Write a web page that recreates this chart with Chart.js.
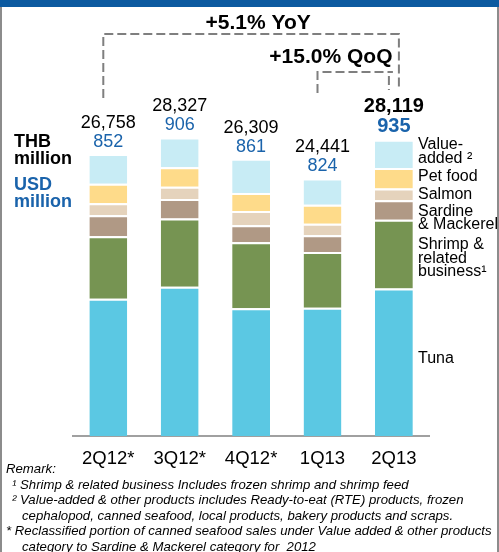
<!DOCTYPE html>
<html>
<head>
<meta charset="utf-8">
<script src="https://cdn.jsdelivr.net/npm/chart.js@4"></script>
<style>
  html, body { margin: 0; padding: 0; background: #fff; }
  body { width: 499px; height: 552px; position: relative; overflow: hidden; font-family: "Liberation Sans", Arial, sans-serif; }
  #header { position: absolute; left: 0; top: 0; width: 499px; height: 7px; background: #0c5aa0; }
  #frame { position: absolute; left: 0; top: 7px; width: 495px; height: 560px; border-left: 2px solid #8c8c8c; border-right: 2px solid #8c8c8c; }
  #chart-box { position: absolute; left: 0; top: 0; width: 499px; height: 485px; }
  .unit { position: absolute; left: 14px; font-weight: bold; font-size: 18px; line-height: 16.6px; }
  #thb { top: 133px; color: #000; }
  #usd { top: 176px; color: #1a63ab; }
  #remarks { position: absolute; left: 6px; top: 461px; font-style: italic; font-size: 13.2px; line-height: 15.6px; color: #000; white-space: nowrap; }
  #remarks .ind1 { padding-left: 6px; }
  #remarks .ind2 { padding-left: 16px; }
</style>
</head>
<body>
<div id="header"></div>
<div id="frame"></div>
<div id="chart-box"><canvas id="sales-chart"></canvas></div>
<div class="unit" id="thb">THB<br>million</div>
<div class="unit" id="usd">USD<br>million</div>
<div id="remarks">
  <div>Remark:</div>
  <div class="ind1">¹ Shrimp &amp; related business Includes frozen shrimp and shrimp feed</div>
  <div class="ind1">² Value-added &amp; other products includes Ready-to-eat (RTE) products, frozen</div>
  <div class="ind2">cephalopod, canned seafood, local products, bakery products and scraps.</div>
  <div>* Reclassified portion of canned seafood sales under Value added &amp; other products</div>
  <div class="ind2">category to Sardine &amp; Mackerel category for&nbsp; 2012</div>
</div>
<script>
// Quarters
const quarters = ["2Q12*", "3Q12*", "4Q12*", "1Q13", "2Q13"];

// Sales by category, THB million
const tuna = [13020, 14150, 12113, 12175, 14000];
const shrimp = [5927, 6482, 6262, 5277, 6520];
const sardine = [2008, 1864, 1625, 1587, 1845];
const salmon = [1119, 1147, 1338, 1090, 1119];
const petFood = [1864, 1864, 1721, 1816, 1941];
const valueAdded = [2820, 2820, 3250, 2495, 2696];

// Totals printed above bars
const totalThb = ["26,758", "28,327", "26,309", "24,441", "28,119"];
const totalUsd = ["852", "906", "861", "824", "935"];

const seriesNames = ["Tuna", "Shrimp &\nrelated\nbusiness¹", "Sardine\n& Mackerel", "Salmon", "Pet food", "Value-\nadded ²"];

const growthYoY = "+5.1% YoY";
const growthQoQ = "+15.0% QoQ";

const colors = ["#5bc8e3", "#769452", "#b09985", "#e5d3bc", "#fedb8a", "#c8ecf5"];
const FONT = '"Liberation Sans", Arial, sans-serif';

/* Labels, brackets and the side legend */
const overlayPlugin = {
  id: "overlay",
  afterDatasetsDraw(chart) {
    const ctx = chart.ctx;
    const topMeta = chart.getDatasetMeta(5);
    const last = quarters.length - 1;
    ctx.save();
    ctx.textAlign = "center";
    ctx.textBaseline = "middle";

    // totals above each bar
    topMeta.data.forEach((bar, i) => {
      const bold = i === last;
      ctx.font = (bold ? "bold 20px " : "18px ") + FONT;
      ctx.fillStyle = "#000";
      ctx.fillText(totalThb[i], bar.x, bar.y - (bold ? 33 : 31));
      ctx.fillStyle = "#1a63ab";
      ctx.fillText(totalUsd[i], bar.x, bar.y - (bold ? 13 : 12));
    });

    // growth brackets
    const x0 = topMeta.data[0].x;
    const x3 = topMeta.data[3].x;
    const x4 = topMeta.data[last].x;
    ctx.strokeStyle = "#7f7f7f";
    ctx.lineWidth = 2;
    ctx.setLineDash([9, 4]);
    ctx.beginPath();
    ctx.moveTo(x0 - 5, 98);
    ctx.lineTo(x0 - 5, 34);
    ctx.lineTo(x4 + 5, 34);
    ctx.lineTo(x4 + 5, 90);
    ctx.moveTo(x3 - 5, 93);
    ctx.lineTo(x3 - 5, 72);
    ctx.lineTo(x4 - 1, 72);
    ctx.moveTo(x4 - 5, 76);
    ctx.lineTo(x4 - 5, 90);
    ctx.stroke();
    ctx.setLineDash([]);

    ctx.fillStyle = "#000";
    ctx.font = "bold 21px " + FONT;
    ctx.fillText(growthYoY, (x0 + x4) / 2 + 7, 23);
    ctx.fillText(growthQoQ, x4 - 63, 57);

    // series names beside last bar
    const nudge = [-4, 4, 8, 0, -2, -2];
    ctx.textAlign = "left";
    ctx.font = "16px " + FONT;
    seriesNames.forEach((name, d) => {
      const seg = chart.getDatasetMeta(d).data[last];
      const mid = (seg.y + seg.base) / 2 + nudge[d];
      const lines = name.split("\n");
      lines.forEach((ln, k) => {
        ctx.fillText(ln, 418, mid + (k - (lines.length - 1) / 2) * 13.6);
      });
    });
    ctx.restore();
  },
};

window.addEventListener("DOMContentLoaded", () => {
  const seriesData = [tuna, shrimp, sardine, salmon, petFood, valueAdded];
  const datasets = seriesData.map((values, d) => ({
    label: seriesNames[d],
    data: values,
    backgroundColor: colors[d],
    borderColor: "#ffffff",
    borderWidth: { top: 2, right: 0, bottom: 0, left: 0 },
    borderSkipped: "bottom",
    categoryPercentage: 0.53,
    barPercentage: 1,
  }));

  new Chart(document.getElementById("sales-chart"), {
    type: "bar",
    data: { labels: quarters, datasets },
    options: {
      responsive: true,
      maintainAspectRatio: false,
      animation: false,
      layout: { padding: { left: 72.6, right: 69.4, top: 17.6, bottom: 10.8 } },
      plugins: { legend: { display: false }, tooltip: { enabled: false } },
      scales: {
        x: {
          stacked: true,
          grid: { display: false },
          border: { display: true, color: "#a0a0a0", width: 2 },
          ticks: { color: "#000", padding: 4, font: { family: FONT, size: 18.5 } },
        },
        y: { stacked: true, display: false, min: 0, max: 39700 },
      },
    },
    plugins: [overlayPlugin],
  });
});
</script>
</body>
</html>
